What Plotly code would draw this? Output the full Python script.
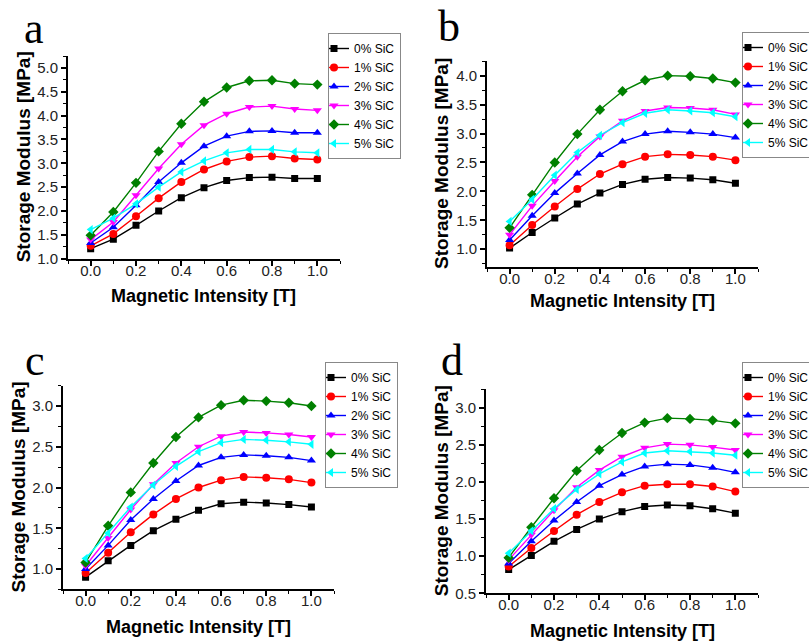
import plotly.graph_objects as go

field_T = [0.0, 0.1, 0.2, 0.3, 0.4, 0.5, 0.6, 0.7, 0.8, 0.9, 1.0]
series_names = ["0% SiC", "1% SiC", "2% SiC", "3% SiC", "4% SiC", "5% SiC"]
panel_labels = ["a", "b", "c", "d"]

panel_a = [
    [1.21, 1.41, 1.70, 2.00, 2.28, 2.49, 2.64, 2.70, 2.71, 2.68, 2.68],
    [1.27, 1.52, 1.89, 2.27, 2.61, 2.87, 3.04, 3.13, 3.15, 3.10, 3.08],
    [1.33, 1.66, 2.12, 2.61, 3.01, 3.36, 3.57, 3.67, 3.68, 3.64, 3.64],
    [1.40, 1.77, 2.33, 2.89, 3.40, 3.80, 4.04, 4.18, 4.20, 4.14, 4.11],
    [1.49, 1.98, 2.59, 3.25, 3.83, 4.29, 4.59, 4.73, 4.74, 4.67, 4.65],
    [1.61, 1.85, 2.15, 2.50, 2.82, 3.05, 3.22, 3.29, 3.29, 3.24, 3.22],
]
panel_b = [
    [1.02, 1.29, 1.54, 1.78, 1.97, 2.12, 2.21, 2.24, 2.23, 2.20, 2.14],
    [1.07, 1.42, 1.74, 2.04, 2.30, 2.47, 2.60, 2.64, 2.63, 2.60, 2.54],
    [1.16, 1.58, 1.97, 2.31, 2.63, 2.86, 2.99, 3.04, 3.02, 2.99, 2.93],
    [1.25, 1.75, 2.18, 2.60, 2.95, 3.22, 3.39, 3.45, 3.44, 3.41, 3.33],
    [1.37, 1.94, 2.50, 2.99, 3.41, 3.73, 3.92, 4.00, 3.99, 3.95, 3.88],
    [1.48, 1.86, 2.28, 2.67, 2.97, 3.19, 3.35, 3.41, 3.39, 3.36, 3.29],
]
panel_c = [
    [0.90, 1.10, 1.29, 1.47, 1.61, 1.72, 1.80, 1.82, 1.81, 1.79, 1.76],
    [0.95, 1.20, 1.45, 1.67, 1.86, 2.00, 2.09, 2.13, 2.12, 2.10, 2.06],
    [1.00, 1.29, 1.60, 1.86, 2.08, 2.27, 2.37, 2.40, 2.39, 2.37, 2.33],
    [1.04, 1.38, 1.73, 2.04, 2.30, 2.50, 2.63, 2.68, 2.67, 2.65, 2.62],
    [1.08, 1.53, 1.94, 2.30, 2.62, 2.86, 3.01, 3.07, 3.06, 3.04, 3.00],
    [1.13, 1.44, 1.76, 2.03, 2.26, 2.44, 2.55, 2.59, 2.58, 2.56, 2.53],
]
panel_d = [
    [0.82, 1.01, 1.20, 1.36, 1.50, 1.60, 1.67, 1.69, 1.68, 1.64, 1.58],
    [0.86, 1.11, 1.34, 1.56, 1.73, 1.86, 1.95, 1.97, 1.97, 1.94, 1.87],
    [0.90, 1.20, 1.48, 1.73, 1.95, 2.10, 2.21, 2.24, 2.23, 2.19, 2.13],
    [0.95, 1.29, 1.62, 1.93, 2.16, 2.34, 2.46, 2.51, 2.50, 2.47, 2.43],
    [0.98, 1.39, 1.78, 2.15, 2.43, 2.66, 2.80, 2.86, 2.85, 2.83, 2.79],
    [1.04, 1.34, 1.64, 1.90, 2.11, 2.27, 2.39, 2.42, 2.41, 2.39, 2.36],
]
panels = [panel_a, panel_b, panel_c, panel_d]
y_ranges = [[1.0, 5.25], [0.7, 4.25], [0.75, 3.25], [0.5, 3.25]]

colors = ["#000000", "#ff0000", "#0000ff", "#ff00ff", "#008000", "#00ffff"]
symbols = ["square", "circle", "triangle-up", "triangle-down", "diamond", "triangle-left"]
msizes = [7, 8, 8, 8, 8, 8]

W, H = 809, 641
# plot-area pixel boxes: left, right, top, bottom
boxes = [(68, 340, 56, 258.7), (487, 758, 61.2, 266.6), (63, 334, 385.6, 589.4), (486, 758, 389.2, 593.3)]
legend_pos = [(328, 33), (742, 32), (325, 362), (742, 362)]
label_pos = [(22, 28), (436, 27), (23, 360), (439, 360)]
xtitle_dy = [37, 34, 38, 38]

fig = go.Figure()
layout = dict(width=W, height=H, paper_bgcolor="white", plot_bgcolor="white",
              margin=dict(l=0, r=0, t=0, b=0, autoexpand=False), showlegend=True)
annotations = []
font_fam = "Liberation Sans, Arial, sans-serif"

for p, data in enumerate(panels):
    sfx = "" if p == 0 else str(p + 1)
    xa, ya = "x" + sfx, "y" + sfx
    lg = "legend" + sfx
    for i, name in enumerate(series_names):
        fig.add_trace(go.Scatter(
            x=field_T, y=data[i], name=name, mode="lines+markers",
            xaxis=xa, yaxis=ya, legend=lg,
            line=dict(color=colors[i], width=1.4),
            marker=dict(symbol=symbols[i], size=msizes[i], color=colors[i]),
        ))
    l, r, t, b = boxes[p]
    axis_common = dict(showline=True, linecolor="black", linewidth=1.8, ticks="outside",
                       tickcolor="black", tickwidth=1.5, ticklen=5, showgrid=False, zeroline=False,
                       tickfont=dict(family=font_fam, size=15, color="#222222"))
    layout["xaxis" + sfx] = dict(axis_common, domain=[l / W, r / W], range=[-0.1, 1.1],
                                 tickvals=[0.0, 0.2, 0.4, 0.6, 0.8, 1.0], ticktext=["0.0", "0.2", "0.4", "0.6", "0.8", "1.0"],
                                 minor=dict(ticks="outside", dtick=0.1, tick0=-0.1, ticklen=3, tickcolor="black", tickwidth=1.3),
                                 ticklabelstandoff=-8, anchor=ya)
    layout["yaxis" + sfx] = dict(axis_common, domain=[1 - b / H, 1 - t / H], range=y_ranges[p],
                                 dtick=0.5, tick0=0, tickformat=".1f",
                                 minor=dict(ticks="outside", dtick=0.25, tick0=0, ticklen=3, tickcolor="black", tickwidth=1.3),
                                 anchor=xa)
    lx, ly = legend_pos[p]
    layout[lg] = dict(x=lx / W, y=1 - ly / H, xanchor="left", yanchor="top", xref="paper", yref="paper",
                      bgcolor="white", bordercolor="#888888", borderwidth=1, indentation=-15,
                      font=dict(family=font_fam, size=12, color="black"), itemwidth=30)
    # axis titles
    annotations.append(dict(x=(l - 45) / W, y=1 - ((t + b) / 2) / H, xref="paper", yref="paper",
                            text="<b>Storage Modulus [MPa]</b>", textangle=-90, showarrow=False,
                            font=dict(family=font_fam, size=19, color="black"), xanchor="center", yanchor="middle"))
    annotations.append(dict(x=((l + r) / 2) / W, y=1 - (b + xtitle_dy[p]) / H, xref="paper", yref="paper",
                            text="<b>Magnetic Intensity [T]</b>", showarrow=False,
                            font=dict(family=font_fam, size=18, color="black"), xanchor="center", yanchor="middle"))
    px, py = label_pos[p]
    annotations.append(dict(x=px / W, y=1 - py / H, xref="paper", yref="paper", text=panel_labels[p],
                            showarrow=False, font=dict(family="Liberation Serif, Times New Roman, serif", size=44, color="black"),
                            xanchor="left", yanchor="middle"))

layout["annotations"] = annotations
fig.update_layout(**layout)
fig.write_html("out.html", config={"displayModeBar": False},
               post_script="document.body.style.margin='0';document.body.style.overflow='hidden';")
